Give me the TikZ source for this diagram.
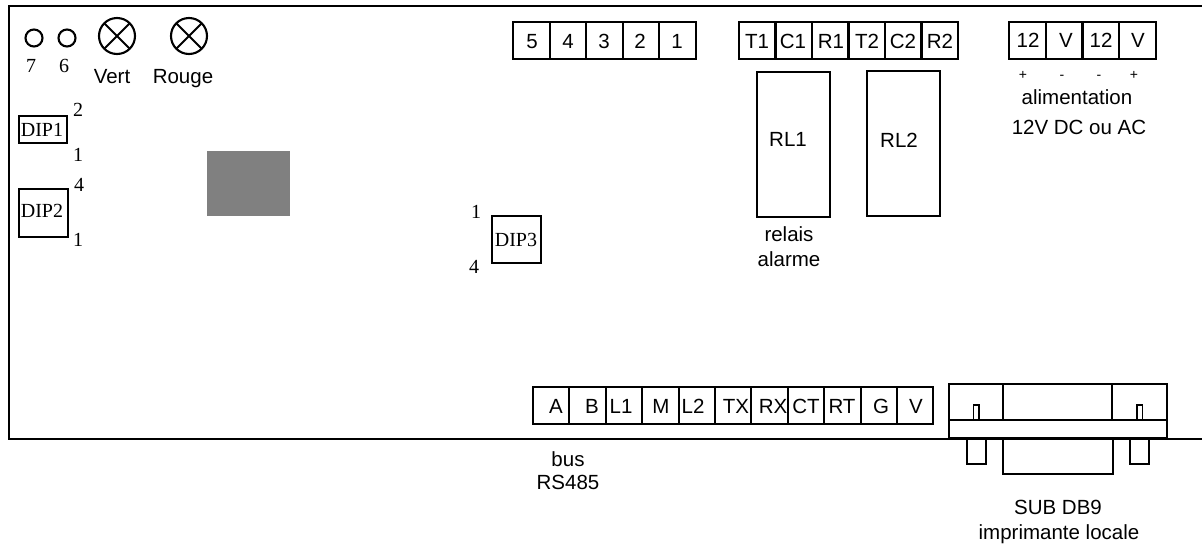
\documentclass[tikz,border=0pt]{standalone}
\usepackage{fontspec}
\setmainfont{Liberation Serif}
\setsansfont{Liberation Sans}
\tikzset{
  x=1pt,y=-1pt,
  every node/.style={inner sep=0pt,outer sep=0pt},
  ln/.style={line width=2.1pt,line cap=rect,line join=miter},
  box/.style={draw,line width=2.1pt,rectangle,anchor=north west},
  cellbox/.style={box,minimum height=37pt},
  sans/.style={anchor=base,font=\sffamily\fontsize{20.5}{24}\selectfont},
  small/.style={anchor=base,font=\sffamily\fontsize{14}{16}\selectfont},
  serif/.style={anchor=base,font=\rmfamily\fontsize{20}{24}\selectfont},
  lamp/.style={draw,line width=2.1pt,circle,anchor=center},
}
\begin{document}
\begin{tikzpicture}
\useasboundingbox (0,0) rectangle (1202,547);
% board outline
\coordinate (tr) at (1202,6);
\coordinate (tl) at (9,6);
\coordinate (bl) at (9,439);
\coordinate (br) at (1202,439);
\draw[ln,line cap=butt] (tr) -- (tl) -- (bl) -- (br);
% LEDs and lamps
\node[lamp,minimum size=17pt] (led7) at (34,38) {};
\node[lamp,minimum size=17pt] (led6) at (67,38) {};
\node[lamp,minimum size=36pt] (lampV) at (117,36) {};
\node[lamp,minimum size=36pt] (lampR) at (189,36) {};
\draw[line width=2.1pt] (lampV.north west) -- (lampV.south east) (lampV.north east) -- (lampV.south west);
\draw[line width=2.1pt] (lampR.north west) -- (lampR.south east) (lampR.north east) -- (lampR.south west);
\node[serif] (t7) at (31,72) {7};
\node[serif] (t6) at (64,72) {6};
\node[sans] (tVert) at (112,83) {Vert};
\node[sans] (tRouge) at (183,83) {Rouge};
% DIP switches
\node[box,minimum width=48pt,minimum height=27pt] (dip1) at (19,116) {};
\node[serif] (tdip1) at (42,136) {DIP1};
\node[serif] (d1a) at (78,116) {2};
\node[serif] (d1b) at (78,161) {1};
\node[box,minimum width=49pt,minimum height=48pt] (dip2) at (19,189) {};
\node[serif] (tdip2) at (42,217) {DIP2};
\node[serif] (d2a) at (79,191) {4};
\node[serif] (d2b) at (78,246) {1};
\node[box,minimum width=49pt,minimum height=47pt] (dip3) at (492,216) {};
\node[serif] (tdip3) at (516,246) {DIP3};
\node[serif] (d3a) at (476,218) {1};
\node[serif] (d3b) at (474,273) {4};
% grey block
\node[anchor=north west,fill=black!50,minimum width=82.5pt,minimum height=64.5pt] (chip) at (207,151) {};
% terminal strips
\foreach \n/\cx/\tx/\t in {a/513/532/5,b/549.6/568/4,c/586.2/604/3,d/622.8/640/2,e/659.4/677/1}
  {\node[cellbox,minimum width=36.6pt] (k\n) at (\cx,22) {};
   \node[sans] (kt\n) at (\tx,48) {\t};}
\foreach \n/\cx/\tx/\t in {a/739/757/T1,b/775.5/793/C1,c/812/831/R1,d/848.5/867/T2,e/885/903/C2,f/921.5/940/R2}
  {\node[cellbox,minimum width=36.5pt] (r\n) at (\cx,22) {};
   \node[sans] (rt\n) at (\tx,48) {\t};}
\foreach \n/\cx/\tx/\t in {a/1009/1028/12,b/1045.75/1066/V,c/1082.5/1101/12,d/1119.25/1138/V}
  {\node[cellbox,minimum width=36.75pt] (p\n) at (\cx,22) {};
   \node[sans] (pt\n) at (\tx,47) {\t};}
\foreach \n/\cx/\tx/\t in {a/533/556/A,b/569.4/592/B,c/605.8/621/L1,d/642.2/661/M,e/678.6/693/L2,f/715/736/TX,g/751.4/773/RX,h/787.8/806/CT,i/824.2/842/RT,j/860.6/881/G,k/897/916/V}
  {\node[cellbox,minimum width=36.4pt] (b\n) at (\cx,387) {};
   \node[sans] (bt\n) at (\tx,413) {\t};}
% polarity marks
\node[small] (s1) at (1023,79) {+};
\node[small] (s2) at (1062,79) {-};
\node[small] (s3) at (1099,79) {-};
\node[small] (s4) at (1134,79) {+};
\node[sans] (tali) at (1077,104) {alimentation};
\node[sans] (tv) at (1079,134) {12V DC ou AC};
% relays
\node[box,minimum width=73pt,minimum height=145pt] (rl1) at (757,72) {};
\node[box,minimum width=73pt,minimum height=145pt] (rl2) at (867,71) {};
\node[sans] (trl1) at (788,146) {RL1};
\node[sans] (trl2) at (899,147) {RL2};
\node[sans] (trel) at (789,241) {relais};
\node[sans] (tala) at (789,266) {alarme};
\node[sans] (tbus) at (568,466) {bus};
\node[sans] (trs) at (568,489) {RS485};
% DB9 connector
\node[box,minimum width=19pt,minimum height=26pt] (footl) at (967,438) {};
\node[box,minimum width=19pt,minimum height=26pt] (footr) at (1130,438) {};
\node[box,minimum width=110pt,minimum height=36pt] (shell) at (1003,438) {};
\node[box,minimum width=218pt,minimum height=54pt] (db) at (949,384) {};
\coordinate (la) at (949,420);
\coordinate (lb) at (1167,420);
\coordinate (va) at (1003,384);
\coordinate (vb) at (1003,420);
\coordinate (vc) at (1112,384);
\coordinate (vd) at (1112,420);
\draw[ln] (la) -- (lb);
\draw[ln] (va) -- (vb);
\draw[ln] (vc) -- (vd);
\node[box,line width=1.6pt,minimum width=5.5pt,minimum height=15pt] (pinl) at (973.5,405) {};
\node[box,line width=1.6pt,minimum width=5.5pt,minimum height=15pt] (pinr) at (1137,405) {};
\node[sans] (tsub) at (1058,514) {SUB DB9};
\node[sans] (timp) at (1059,539) {imprimante locale};
\end{tikzpicture}
\end{document}
